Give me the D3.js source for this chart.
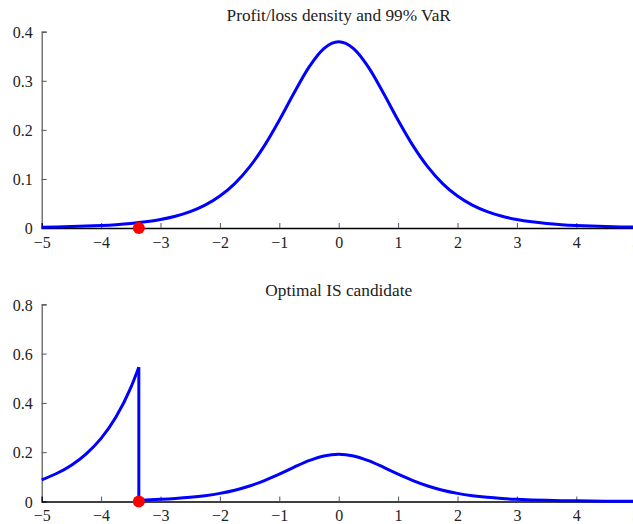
<!DOCTYPE html>
<html><head><meta charset="utf-8">
<script src="https://cdn.jsdelivr.net/npm/d3@7"></script>
<style>
body{margin:0;background:#fff;}
svg{display:block;}
</style></head>
<body>
<script>
// ---- data ----
const xs = [-5,-4.75,-4.5,-4.25,-4,-3.75,-3.5,-3.25,-3,-2.75,-2.5,-2.25,-2,-1.75,-1.5,-1.25,-1,-0.75,-0.5,-0.25,0,0.25,0.5,0.75,1,1.25,1.5,1.75,2,2.25,2.5,2.75,3,3.25,3.5,3.75,4,4.25,4.5,4.75,5];
const density = [0.00176,0.00227,0.00295,0.00387,0.00512,0.00685,0.00924,0.01259,0.01729,0.02393,0.03333,0.04657,0.06509,0.09054,0.12452,0.16790,0.21968,0.27570,0.32793,0.36572,0.37961,0.36572,0.32793,0.27570,0.21968,0.16790,0.12452,0.09054,0.06509,0.04657,0.03333,0.02393,0.01729,0.01259,0.00924,0.00685,0.00512,0.00387,0.00295,0.00227,0.00176];
const VaR = -3.365;
const tailX = [-5,-4.75,-4.5,-4.25,-4,-3.75,-3.5,-3.365];
const tailY = [0.0879,0.1135,0.1475,0.1935,0.256,0.3425,0.462,0.545];
const bodyX = [-3.365,-3.25,-3,-2.75,-2.5,-2.25,-2,-1.75,-1.5,-1.25,-1,-0.75,-0.5,-0.25,0,0.25,0.5,0.75,1,1.25,1.5,1.75,2,2.25,2.5,2.75,3,3.25,3.5,3.75,4,4.25,4.5,4.75,5];
const bodyY = [0.0055,0.00636,0.00873,0.01209,0.01683,0.02352,0.03287,0.04573,0.06289,0.08480,0.11095,0.13924,0.16562,0.18471,0.19172,0.18471,0.16562,0.13924,0.11095,0.08480,0.06289,0.04573,0.03287,0.02352,0.01683,0.01209,0.00873,0.00636,0.00467,0.00346,0.00259,0.00195,0.00149,0.00115,0.00089];
const xTicks = [-5,-4,-3,-2,-1,0,1,2,3,4,5];
const yTicksTop = [0,0.1,0.2,0.3,0.4];
const yTicksBot = [0,0.2,0.4,0.6,0.8];
const titles = ["Profit/loss density and 99% VaR","Optimal IS candidate"];

// ---- drawing ----
const FONT = "'Liberation Serif', 'DejaVu Serif', 'Times New Roman', serif";
const W = 633, H = 524;
const svg = d3.select("body").append("svg").attr("width",W).attr("height",H);
const x = d3.scaleLinear().domain([-5,5]).range([41.7,635.7]);
const yTop = d3.scaleLinear().domain([0,0.4]).range([228,31.7]);
const yBot = d3.scaleLinear().domain([0,0.8]).range([501.5,304.3]);

const fmtY = d => d === 0 ? "0" : d3.format(".1f")(d);
const fmtX = d => d < 0 ? "\u2212" + Math.abs(d) : String(d);

function panel(y, yTicks, title, titleY){
  const g = svg.append("g");
  const ya = g.append("g").attr("transform",`translate(${x.range()[0]},0)`)
    .call(d3.axisLeft(y).tickValues(yTicks).tickSize(-5).tickPadding(9).tickFormat(fmtY));
  ya.attr("font-family", null);
  ya.select(".domain").attr("stroke","#555").attr("stroke-width",1.2);
  ya.selectAll(".tick line").attr("stroke","#555");
  ya.selectAll("text").style("font-family",FONT).style("font-size","16px").attr("fill","#222").attr("dy","0.36em");
  const xa = g.append("g").attr("transform",`translate(0,${y(0)})`)
    .call(d3.axisBottom(x).tickValues(xTicks).tickSize(-5).tickPadding(8).tickFormat(fmtX));
  xa.attr("font-family", null);
  xa.select(".domain").attr("stroke","#000").attr("stroke-width",1.3);
  xa.selectAll(".tick line").attr("stroke","#555");
  xa.selectAll(".tick").filter(d=>d===-5).select("line").remove();
  xa.selectAll("text").style("font-family",FONT).style("font-size","16px").attr("fill","#222").attr("dy","0.72em");
  g.append("text").attr("x",(x.range()[0]+x.range()[1])/2).attr("y",titleY)
    .attr("text-anchor","middle").style("font-family",FONT).style("font-size","17.3px").attr("fill","#222").text(title);
  return g;
}

const g1 = panel(yTop, yTicksTop, titles[0], 21);
const g2 = panel(yBot, yTicksBot, titles[1], 296);

const pts = xs.map((v,i)=>[v,density[i]]);
g1.append("path").datum(pts)
  .attr("d", d3.line().x(d=>x(d[0])).y(d=>yTop(d[1])).curve(d3.curveMonotoneX))
  .attr("fill","none").attr("stroke","#0000ff").attr("stroke-width",3).attr("stroke-linejoin","round");
g1.append("circle").attr("cx",x(VaR)).attr("cy",yTop(0)).attr("r",6).attr("fill","#ff0000");

const tail = tailX.map((v,i)=>[v,tailY[i]]);
const body = bodyX.map((v,i)=>[v,bodyY[i]]);
g2.append("path").datum(tail)
  .attr("d", d3.line().x(d=>x(d[0])).y(d=>yBot(d[1])).curve(d3.curveMonotoneX))
  .attr("fill","none").attr("stroke","#0000ff").attr("stroke-width",3).attr("stroke-linejoin","round");
g2.append("path").datum([tail[tail.length-1], body[0]])
  .attr("d", d3.line().x(d=>x(d[0])).y(d=>yBot(d[1])))
  .attr("fill","none").attr("stroke","#0000ff").attr("stroke-width",3);
g2.append("path").datum(body)
  .attr("d", d3.line().x(d=>x(d[0])).y(d=>yBot(d[1])).curve(d3.curveMonotoneX))
  .attr("fill","none").attr("stroke","#0000ff").attr("stroke-width",3).attr("stroke-linejoin","round");
g2.append("circle").attr("cx",x(VaR)).attr("cy",yBot(0)).attr("r",6).attr("fill","#ff0000");
</script>
</body></html>
